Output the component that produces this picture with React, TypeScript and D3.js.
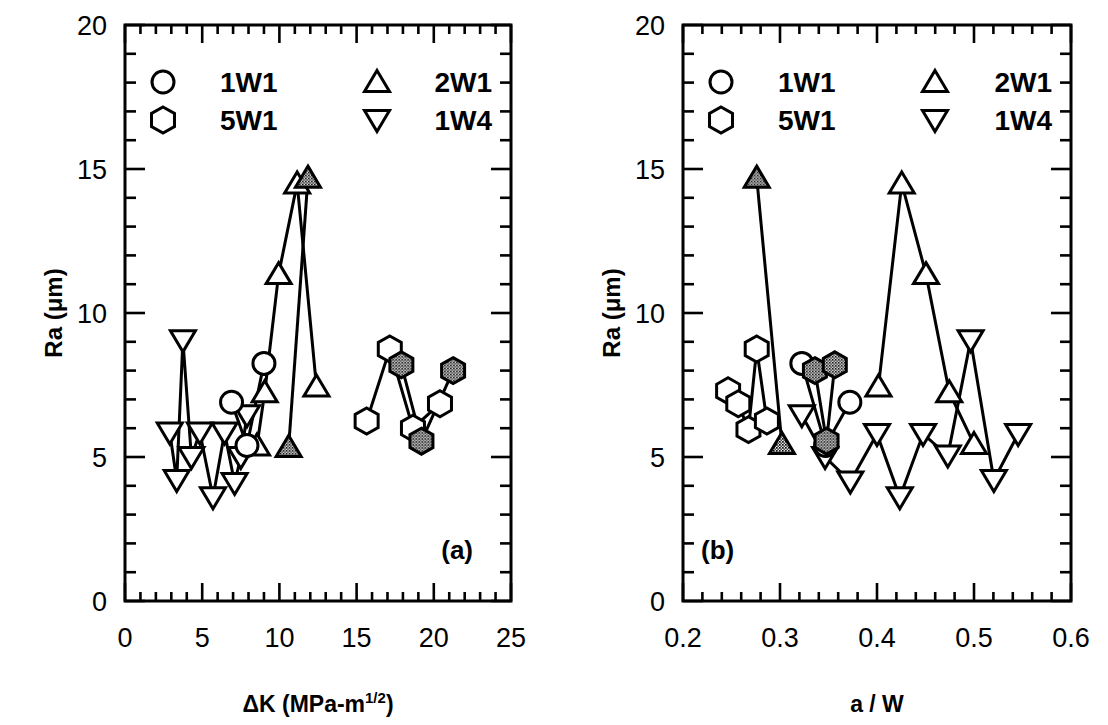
import React from "react";
import * as d3 from "d3";

// ---- panel (a): Ra vs ΔK ----
const dk1W1 = [6.9, 7.9, 9.0];
const raDk1W1 = [6.9, 5.4, 8.25];
const dk2W1 = [8.55, 9.05, 9.95, 11.15, 12.4];
const raDk2W1 = [5.4, 7.25, 11.35, 14.5, 7.45];
const dk2W1f = [10.6, 11.85];
const raDk2W1f = [5.35, 14.7];
const dk5W1 = [15.65, 17.15, 18.65, 20.4];
const raDk5W1 = [6.25, 8.75, 6.0, 6.85];
const dk5W1f = [17.9, 19.2, 21.25];
const raDk5W1f = [8.2, 5.55, 8.0];
const dk1W4 = [2.9, 3.35, 3.75, 4.3, 4.85, 5.7, 6.45, 7.1, 7.5, 7.9];
const raDk1W4 = [5.85, 4.2, 9.05, 5.0, 5.85, 3.6, 5.85, 4.1, 5.0, 6.45];

// ---- panel (b): Ra vs a/W ----
const aw1W1 = [0.3225, 0.347, 0.372];
const raAw1W1 = [8.25, 5.4, 6.9];
const aw2W1 = [0.4015, 0.4255, 0.4505, 0.4745, 0.5];
const raAw2W1 = [7.45, 14.5, 11.35, 7.25, 5.45];
const aw2W1f = [0.276, 0.302];
const raAw2W1f = [14.7, 5.45];
const aw5W1 = [0.2465, 0.257, 0.2675, 0.276, 0.2865];
const raAw5W1 = [7.3, 6.85, 5.95, 8.75, 6.25];
const aw5W1f = [0.336, 0.348, 0.3565];
const raAw5W1f = [8.0, 5.55, 8.2];
const aw1W4 = [0.3225, 0.3465, 0.3725, 0.4, 0.4235, 0.4475, 0.473, 0.4965, 0.5205, 0.5455];
const raAw1W4 = [6.45, 5.0, 4.15, 5.8, 3.6, 5.8, 5.05, 9.05, 4.2, 5.8];

const yTicks = [0, 5, 10, 15, 20];
const dkTicks = [0, 5, 10, 15, 20, 25];
const awTicks = [0.2, 0.3, 0.4, 0.5, 0.6];

const legendItems = [
  { label: "1W1", shape: "circle" },
  { label: "2W1", shape: "up" },
  { label: "5W1", shape: "hex" },
  { label: "1W4", shape: "down" },
];

const FONT = "'Liberation Sans', Arial, Helvetica, sans-serif";
const TOP = 25;
const BOTTOM = 601;
const SW = 3;

function markerPath(shape: string): string {
  if (shape === "up") return "M0,-11.5L12.5,9.5L-12.5,9.5Z";
  if (shape === "down") return "M0,11.5L12.5,-9.5L-12.5,-9.5Z";
  if (shape === "hex") return "M0,-13L11.5,-6.5L11.5,6.5L0,13L-11.5,6.5L-11.5,-6.5Z";
  return d3.arc()({ innerRadius: 0, outerRadius: 11, startAngle: 0, endAngle: 2 * Math.PI }) as string;
}

type Series = { xs: number[]; ys: number[]; shape: string; filled: boolean };

function Panel(props: {
  left: number;
  right: number;
  domain: [number, number];
  minorStep: number;
  majorTicks: number[];
  fmt: (v: number) => string;
  series: Series[];
  tag: string;
  tagRight: boolean;
  xTitle: React.ReactNode;
}) {
  const { left, right, domain, minorStep, majorTicks, fmt, series, tag, tagRight, xTitle } = props;
  const x = d3.scaleLinear().domain(domain).range([left, right]);
  const y = d3.scaleLinear().domain([0, 20]).range([BOTTOM, TOP]);
  const nMinor = Math.round((domain[1] - domain[0]) / minorStep);
  const xMinor = d3.range(nMinor + 1).map((i) => domain[0] + i * minorStep);
  const yMinor = d3.range(21);
  const line = d3.line<[number, number]>().x((d) => x(d[0])).y((d) => y(d[1]));
  const isMajorX = (i: number) => i % 5 === 0;

  return (
    <g>
      {/* lines */}
      {series.map((s, i) => (
        <path
          key={"l" + i}
          d={line(s.xs.map((v, j) => [v, s.ys[j]] as [number, number])) || ""}
          fill="none"
          stroke="#000"
          strokeWidth={SW}
        />
      ))}
      {/* markers */}
      {series.map((s, i) =>
        s.xs.map((v, j) => (
          <path
            key={"m" + i + "-" + j}
            d={markerPath(s.shape)}
            transform={`translate(${x(v)},${y(s.ys[j])})`}
            fill={s.filled ? "url(#stip)" : "#fff"}
            stroke="#000"
            strokeWidth={SW}
          />
        ))
      )}
      {/* ticks */}
      {xMinor.map((v, i) => {
        const len = isMajorX(i) ? 18 : 9;
        return (
          <g key={"xt" + i} stroke="#000" strokeWidth={2.6}>
            <line x1={x(v)} x2={x(v)} y1={BOTTOM} y2={BOTTOM - len} />
            <line x1={x(v)} x2={x(v)} y1={TOP} y2={TOP + len} />
          </g>
        );
      })}
      {yMinor.map((v) => {
        const len = v % 5 === 0 ? 20 : 11;
        return (
          <g key={"yt" + v} stroke="#000" strokeWidth={2.6}>
            <line x1={left} x2={left + len} y1={y(v)} y2={y(v)} />
            <line x1={right} x2={right - len} y1={y(v)} y2={y(v)} />
          </g>
        );
      })}
      <rect x={left} y={TOP} width={right - left} height={BOTTOM - TOP} fill="none" stroke="#000" strokeWidth={3} />
      {/* tick labels */}
      {majorTicks.map((v) => (
        <text key={"xl" + v} x={x(v)} y={647} textAnchor="middle" fontSize={27} fontFamily={FONT}>
          {fmt(v)}
        </text>
      ))}
      {yTicks.map((v) => (
        <text key={"yl" + v} x={left - 18} y={y(v) + 9.5} textAnchor="end" fontSize={27} fontFamily={FONT}>
          {v}
        </text>
      ))}
      {/* legend */}
      {legendItems.map((it, i) => {
        const col = i % 2;
        const row = Math.floor(i / 2);
        const cy = 82 + row * 38;
        const mx = left + (col === 0 ? 38 : 252);
        return (
          <g key={"lg" + i}>
            <path d={markerPath(it.shape)} transform={`translate(${mx},${cy})`} fill="#fff" stroke="#000" strokeWidth={SW} />
            <text
              x={col === 0 ? left + 95 : right - 19}
              y={cy + 10}
              textAnchor={col === 0 ? "start" : "end"}
              fontSize={28}
              fontWeight="bold"
              fontFamily={FONT}
            >
              {it.label}
            </text>
          </g>
        );
      })}
      <text
        x={tagRight ? right - 38 : left + 18}
        y={559}
        textAnchor={tagRight ? "end" : "start"}
        fontSize={26}
        fontWeight="bold"
        fontFamily={FONT}
      >
        {tag}
      </text>
      {/* axis titles */}
      <text
        transform={`translate(${left - 63},${(TOP + BOTTOM) / 2}) rotate(-90)`}
        textAnchor="middle"
        fontSize={24}
        fontWeight="bold"
        fontFamily={FONT}
      >
        Ra (μm)
      </text>
      <text x={(left + right) / 2} y={712} textAnchor="middle" fontSize={23} fontWeight="bold" fontFamily={FONT}>
        {xTitle}
      </text>
    </g>
  );
}

export default function App() {
  const seriesA: Series[] = [
    { xs: dk1W4, ys: raDk1W4, shape: "down", filled: false },
    { xs: dk2W1, ys: raDk2W1, shape: "up", filled: false },
    { xs: dk2W1f, ys: raDk2W1f, shape: "up", filled: true },
    { xs: dk5W1, ys: raDk5W1, shape: "hex", filled: false },
    { xs: dk5W1f, ys: raDk5W1f, shape: "hex", filled: true },
    { xs: dk1W1, ys: raDk1W1, shape: "circle", filled: false },
  ];
  const seriesB: Series[] = [
    { xs: aw1W4, ys: raAw1W4, shape: "down", filled: false },
    { xs: aw2W1, ys: raAw2W1, shape: "up", filled: false },
    { xs: aw2W1f, ys: raAw2W1f, shape: "up", filled: true },
    { xs: aw5W1, ys: raAw5W1, shape: "hex", filled: false },
    { xs: aw1W1, ys: raAw1W1, shape: "circle", filled: false },
    { xs: aw5W1f, ys: raAw5W1f, shape: "hex", filled: true },
  ];
  return (
    <svg
      width={1108}
      height={725}
      style={{ position: "absolute", left: 0, top: 0, background: "#fff" }}
    >
      <defs>
        <pattern id="stip" width={3} height={3} patternUnits="userSpaceOnUse">
          <rect width={3} height={3} fill="#fff" />
          <rect width={1.7} height={1.7} fill="#000" />
          <rect x={1.5} y={1.5} width={1.5} height={1.5} fill="#333" />
        </pattern>
      </defs>
      <Panel
        left={125}
        right={511}
        domain={[0, 25]}
        minorStep={1}
        majorTicks={dkTicks}
        fmt={(v) => String(v)}
        series={seriesA}
        tag="(a)"
        tagRight={true}
        xTitle={
          <>
            ΔK (MPa-m<tspan dy={-9} fontSize={15}>1/2</tspan>
            <tspan dy={9}>)</tspan>
          </>
        }
      />
      <Panel
        left={683}
        right={1071}
        domain={[0.2, 0.6]}
        minorStep={0.02}
        majorTicks={awTicks}
        fmt={(v) => d3.format(".1f")(v)}
        series={seriesB}
        tag="(b)"
        tagRight={false}
        xTitle="a / W"
      />
    </svg>
  );
}
